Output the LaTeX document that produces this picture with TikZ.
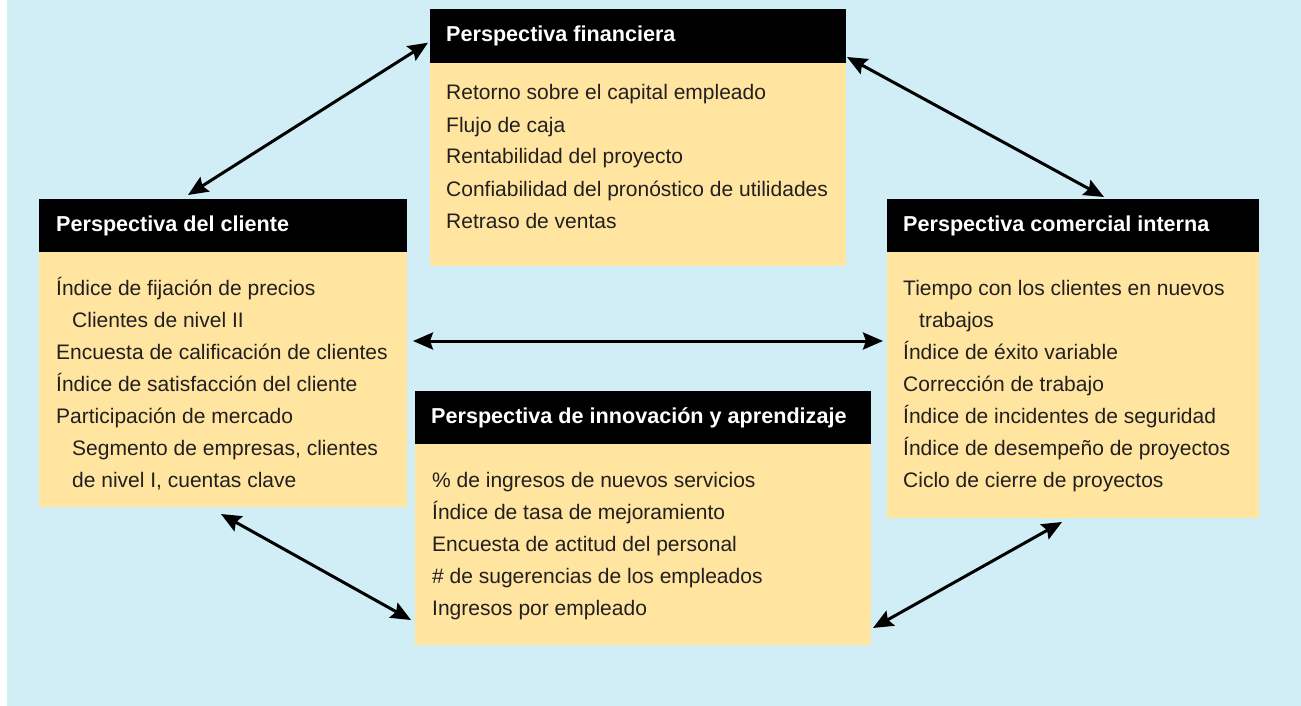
\documentclass[tikz,border=0pt]{standalone}
\usepackage{fontspec}
\setmainfont{Liberation Sans}
\usetikzlibrary{arrows.meta}
\definecolor{bgblue}{RGB}{209,237,246}
\definecolor{boxyel}{RGB}{255,229,160}
\definecolor{txtcol}{RGB}{35,31,32}
\begin{document}
\begin{tikzpicture}[x=1pt,y=-1pt,
  hdrbox/.style={fill=black,draw=none,inner sep=0pt,outer sep=0pt,anchor=north west},
  bodybox/.style={fill=boxyel,draw=none,inner sep=0pt,outer sep=0pt,anchor=north west},
  hdrtext/.style={text=white,font=\fontsize{21.6}{26}\selectfont\bfseries,inner sep=0pt,anchor=base west},
  itemtext/.style={text=txtcol,font=\fontsize{21}{26}\selectfont,inner sep=0pt,anchor=base west},
  link/.style={line width=3pt,draw=black,{Stealth[length=20pt,width=17pt,inset=3pt]}-{Stealth[length=20pt,width=17pt,inset=3pt]}}]
\useasboundingbox (0,0) rectangle (1301,706);
\fill[bgblue] (7,0) rectangle (1301,706);

% Perspectiva financiera
\node[bodybox,minimum width=416pt,minimum height=203pt] (finb) at (430,62.7) {};
\node[hdrbox,minimum width=416pt,minimum height=53.4pt] (finh) at (430,9.3) {};
\node[hdrtext] (fint) at (446,42) {Perspectiva financiera};
\foreach \dx/\t [count=\i] in {0/{Retorno sobre el capital empleado},0/{Flujo de caja},0/{Rentabilidad del proyecto},0/{Confiabilidad del pronóstico de utilidades},0/{Retraso de ventas}}
  \node[itemtext] (fin-\i) at (446+\dx,100+32*\i-32) {\t};

% Perspectiva del cliente
\node[bodybox,minimum width=368pt,minimum height=255pt] (clib) at (39,252) {};
\node[hdrbox,minimum width=368pt,minimum height=53pt] (clih) at (39,199) {};
\node[hdrtext] (clit) at (56,231.5) {Perspectiva del cliente};
\foreach \dx/\t [count=\i] in {0/{Índice de fijación de precios},16/{Clientes de nivel II},0/{Encuesta de calificación de clientes},0/{Índice de satisfacción del cliente},0/{Participación de mercado},16/{Segmento de empresas, clientes},16/{de nivel I, cuentas clave}}
  \node[itemtext] (cli-\i) at (56+\dx,295.5+32*\i-32) {\t};

% Perspectiva comercial interna
\node[bodybox,minimum width=372pt,minimum height=266pt] (intb) at (887,252) {};
\node[hdrbox,minimum width=372pt,minimum height=53pt] (inth) at (887,199) {};
\node[hdrtext] (intt) at (903,231.5) {Perspectiva comercial interna};
\foreach \dx/\t [count=\i] in {0/{Tiempo con los clientes en nuevos},16/{trabajos},0/{Índice de éxito variable},0/{Corrección de trabajo},0/{Índice de incidentes de seguridad},0/{Índice de desempeño de proyectos},0/{Ciclo de cierre de proyectos}}
  \node[itemtext] (int-\i) at (903+\dx,295.5+32*\i-32) {\t};

% Perspectiva de innovación y aprendizaje
\node[bodybox,minimum width=456pt,minimum height=201pt] (innb) at (415,444) {};
\node[hdrbox,minimum width=456pt,minimum height=53pt] (innh) at (415,391) {};
\node[hdrtext] (innt) at (431,423.5) {Perspectiva de innovación y aprendizaje};
\foreach \dx/\t [count=\i] in {0/{\% de ingresos de nuevos servicios},0/{Índice de tasa de mejoramiento},0/{Encuesta de actitud del personal},0/{\# de sugerencias de los empleados},0/{Ingresos por empleado}}
  \node[itemtext] (inn-\i) at (432+\dx,487.5+32*\i-32) {\t};

% connector ends
\coordinate (a1s) at (188,195);   \coordinate (a1e) at (428,42.7);
\coordinate (a2s) at (847,57);    \coordinate (a2e) at (1104,197);
\coordinate (a3s) at (413,341);   \coordinate (a3e) at (883,341);
\coordinate (a4s) at (221,514);   \coordinate (a4e) at (411,620);
\coordinate (a5s) at (873,628);   \coordinate (a5e) at (1062,522);

\draw[link] (a1s) -- (a1e);
\draw[link] (a2s) -- (a2e);
\draw[link] (a3s) -- (a3e);
\draw[link] (a4s) -- (a4e);
\draw[link] (a5s) -- (a5e);
\end{tikzpicture}
\end{document}
